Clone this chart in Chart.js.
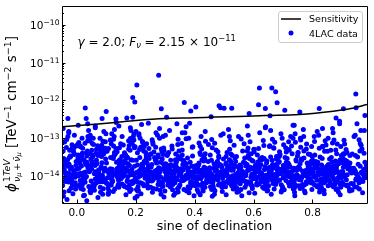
<!DOCTYPE html>
<html>
<head>
<meta charset="utf-8">
<script src="https://cdn.jsdelivr.net/npm/chart.js@4.4.0/dist/chart.umd.min.js"></script>
<style>
  html, body { margin: 0; padding: 0; background: #ffffff; }
  #wrap { width: 374px; height: 241px; }
</style>
</head>
<body>
<div id="wrap"><canvas id="grafico" width="374" height="241"></canvas></div>
<script>
// sensitivity curve (sine of declination, flux at 1 TeV)
const sensSinDec = [-0.05, 0.05, 0.12, 0.2, 0.3, 0.4, 0.47, 0.55, 0.64, 0.755, 0.87, 0.93, 0.985];
const sensFlux = [2.0e-13, 2.3e-13, 2.55e-13, 2.93e-13, 3.31e-13, 3.45e-13, 3.62e-13, 3.74e-13, 3.97e-13, 4.22e-13, 5.16e-13, 6.08e-13, 7.75e-13];

// 4LAC sources: sine of declination and flux in units of 1e-14 TeV-1 cm-2 s-1
const sinDec = [
  .278,.204,.19,.197,.62,.662,.675,.68,.947,.948,.029,.10,-.03,.032,.086,.133,.19,.287,.305,.365,
  .387,.404,.456,.483,.488,.50,.526,.585,.617,.64,.656,.706,.757,.823,.905,.88,.978,.17,
  -.047,-.012,-.031,-.004,-.041,-.023,-.036,-.008,-.018,-.045,-.027,-.002,-.039,-.015,-.033,-.006,-.021,-.043,-.011,-.029,
  -.025,-.048,-.003,-.034,-.019,-.009,-.042,-.028,-.016,-.038,-.005,-.022,-.046,-.013,-.032,-.001,-.026,-.044,-.01,-.035,
  -.04,-.017,-.03,-.006,-.044,-.024,-.013,-.036,-.002,-.028,-.048,-.011,-.02,-.033,-.009,-.042,-.015,-.026,-.038,-.004,
  .003,.041,.017,.029,.008,.046,.022,.035,.012,.039,.001,.026,.044,.015,.032,.006,.048,.019,.037,.024,
  .014,.038,.005,.027,.043,.011,.033,.02,.047,.009,.031,.016,.04,.002,.024,.036,.013,.045,.028,.007,
  .034,.004,.021,.049,.016,.042,.009,.03,.025,.045,.001,.018,.037,.011,.028,.047,.006,.023,.039,.013,
  .052,.087,.064,.095,.071,.058,.083,.099,.061,.076,.054,.091,.068,.08,.057,.094,.073,.062,.088,.079,
  .066,.051,.093,.078,.059,.085,.07,.097,.056,.082,.063,.09,.075,.053,.086,.067,.096,.06,.081,.072,
  .089,.055,.074,.098,.063,.081,.05,.092,.069,.077,.084,.058,.096,.065,.071,.053,.087,.06,.094,.079,
  .104,.138,.117,.146,.123,.109,.131,.142,.112,.127,.101,.148,.119,.135,.107,.144,.125,.113,.139,.121,
  .132,.106,.145,.118,.128,.102,.141,.115,.136,.124,.149,.11,.133,.12,.143,.108,.129,.116,.137,.103,
  .114,.147,.126,.105,.139,.119,.134,.101,.143,.111,.128,.122,.146,.107,.131,.117,.14,.124,.109,.136,
  .153,.187,.166,.195,.171,.158,.182,.199,.161,.176,.154,.191,.168,.18,.157,.194,.173,.162,.188,.179,
  .166,.151,.193,.178,.159,.185,.17,.197,.156,.182,.163,.19,.175,.153,.186,.167,.196,.16,.181,.172,
  .189,.155,.174,.198,.163,.181,.15,.192,.169,.177,.184,.158,.196,.165,.171,.153,.187,.16,.194,.179,
  .204,.238,.217,.246,.223,.209,.231,.242,.212,.227,.201,.248,.219,.235,.207,.244,.225,.213,.239,.221,
  .232,.206,.245,.218,.228,.202,.241,.215,.236,.224,.249,.21,.233,.22,.243,.208,.229,.216,.237,.203,
  .214,.247,.226,.205,.239,.219,.234,.201,.243,.211,.228,.222,.246,.207,.231,.217,.24,.224,.209,.236,
  .254,.288,.267,.296,.272,.259,.283,.298,.262,.277,.253,.291,.269,.281,.257,.294,.274,.263,.289,.279,
  .266,.251,.293,.278,.258,.285,.271,.297,.256,.282,.264,.29,.276,.252,.286,.268,.295,.261,.281,.273,
  .287,.255,.275,.299,.264,.283,.25,.292,.27,.278,.284,.258,.296,.265,.271,.254,.288,.26,.293,.277,
  .303,.338,.317,.346,.322,.308,.331,.342,.313,.327,.301,.348,.319,.335,.306,.344,.324,.312,.339,.321,
  .332,.305,.345,.318,.328,.302,.341,.315,.336,.325,.349,.31,.333,.32,.343,.307,.329,.316,.337,.304,
  .315,.347,.326,.305,.339,.319,.334,.301,.344,.311,.328,.323,.346,.307,.331,.318,.34,.324,.309,.336,
  .352,.387,.366,.395,.371,.358,.382,.399,.361,.376,.354,.391,.368,.38,.357,.394,.373,.362,.388,.379,
  .366,.351,.393,.378,.359,.385,.37,.397,.356,.382,.364,.39,.375,.353,.386,.367,.396,.36,.381,.372,
  .389,.355,.374,.398,.363,.381,.35,.392,.369,.377,.384,.358,.396,.365,.371,.353,.387,.36,.394,.379,
  .404,.438,.417,.446,.423,.409,.431,.442,.412,.427,.401,.448,.419,.435,.407,.444,.425,.413,.439,.421,
  .432,.406,.445,.418,.428,.402,.441,.415,.436,.424,.449,.41,.433,.42,.443,.408,.429,.416,.437,.403,
  .414,.447,.426,.405,.439,.419,.434,.401,.443,.411,.428,.422,.446,.407,.431,.417,.44,.424,.409,.436,
  .452,.487,.466,.495,.471,.458,.482,.499,.461,.476,.454,.491,.468,.48,.457,.494,.473,.462,.488,.479,
  .466,.451,.493,.478,.459,.485,.47,.497,.456,.482,.464,.49,.475,.453,.486,.467,.496,.46,.481,.472,
  .489,.455,.474,.498,.463,.481,.45,.492,.469,.477,.484,.458,.496,.465,.471,.453,.487,.46,.494,.479,
  .503,.538,.517,.546,.522,.508,.531,.542,.513,.527,.501,.548,.519,.535,.506,.544,.524,.512,.539,.521,
  .532,.505,.545,.518,.528,.502,.541,.515,.536,.525,.549,.51,.533,.52,.543,.507,.529,.516,.537,.504,
  .514,.547,.526,.505,.539,.519,.534,.501,.544,.511,.528,.523,.546,.507,.531,.518,.54,.524,.509,.536,
  .552,.587,.566,.595,.571,.558,.582,.599,.561,.576,.554,.591,.568,.58,.557,.594,.573,.562,.588,.579,
  .566,.551,.593,.578,.559,.585,.57,.597,.556,.582,.564,.59,.575,.553,.586,.567,.596,.56,.581,.572,
  .589,.555,.574,.598,.563,.581,.55,.592,.569,.577,.584,.558,.596,.565,.571,.553,.587,.56,.594,.579,
  .603,.638,.617,.646,.622,.608,.631,.642,.613,.627,.601,.648,.619,.635,.606,.644,.624,.612,.639,.621,
  .632,.605,.645,.618,.628,.602,.641,.615,.636,.625,.649,.61,.633,.62,.643,.607,.629,.616,.637,.604,
  .614,.647,.626,.605,.639,.619,.634,.601,.644,.611,.628,.623,.646,.607,.631,.618,.64,.624,.609,.636,
  .652,.687,.666,.695,.671,.658,.682,.699,.661,.676,.654,.691,.668,.68,.657,.694,.673,.662,.688,.679,
  .666,.651,.693,.678,.659,.685,.67,.697,.656,.682,.664,.69,.675,.653,.686,.667,.696,.66,.681,.672,
  .689,.655,.674,.698,.663,.681,.65,.692,.669,.677,.684,.658,.696,.665,.671,.653,.687,.66,.694,.679,
  .703,.738,.717,.746,.722,.708,.731,.742,.713,.727,.701,.748,.719,.735,.706,.744,.724,.712,.739,.721,
  .732,.705,.745,.718,.728,.702,.741,.715,.736,.725,.749,.71,.733,.72,.743,.707,.729,.716,.737,.704,
  .714,.747,.726,.705,.739,.719,.734,.701,.744,.711,.728,.723,.746,.707,.731,.718,.74,.724,.709,.736,
  .752,.787,.766,.795,.771,.758,.782,.799,.761,.776,.754,.791,.768,.78,.757,.794,.773,.762,.788,.779,
  .766,.751,.793,.778,.759,.785,.77,.797,.756,.782,.764,.79,.775,.753,.786,.767,.796,.76,.781,.772,
  .789,.755,.774,.798,.763,.781,.75,.792,.769,.777,.784,.758,.796,.765,.771,.753,.787,.76,.794,.779,
  .803,.838,.817,.846,.822,.808,.831,.842,.813,.827,.801,.848,.819,.835,.806,.844,.824,.812,.839,.821,
  .832,.805,.845,.818,.828,.802,.841,.815,.836,.825,.849,.81,.833,.82,.843,.807,.829,.816,.837,.804,
  .814,.847,.826,.805,.839,.819,.834,.801,.844,.811,.828,.823,.846,.807,.831,.818,.84,.824,.809,.836,
  .852,.887,.866,.895,.871,.858,.882,.899,.861,.876,.854,.891,.868,.88,.857,.894,.873,.862,.888,.879,
  .866,.851,.893,.878,.859,.885,.87,.897,.856,.882,.864,.89,.875,.853,.886,.867,.896,.86,.881,.872,
  .889,.855,.874,.898,.863,.881,.85,.892,.869,.877,.884,.858,.896,.865,.871,.853,.887,.86,.894,.879,
  .903,.958,.927,.976,.932,.908,.951,.972,.913,.947,.901,.981,.919,.965,.906,.974,.934,.912,.969,.941,
  .952,.905,.975,.918,.938,.902,.961,.915,.966,.925,.983,.91,.953,.92,.971,.907,.949,.916,.977,.904,
  .924,.979,.946,.905,.959,.929,.964,.901,.984,.911,.948,.933,.968,.907,.955,.918,.97,.944,.909,.962,
  .936,.963,.914,.98,.943,.921,.957,.903,.973,.931,.95,.917,.967,.94,.926,.978,.954,.909,.945,.96,
  -.046,.012,-.021,.044,.067,-.008,.091,.028,-.035,.056,.081,.003,-.027,.072,.038,.097,-.043,.019,.063,.085,
  .108,.163,.224,.137,.281,.195,.119,.252,.176,.213,.143,.296,.158,.237,.125,.268,.184,.206,.149,.274,
  .034,.097,.145,.211,.262,.018,.071,.129,.188,.243,.287,.051,.114,.172,.229,.005,.083,.154,.198,.276,
  .312,.447,.528,.371,.602,.489,.336,.415,.563,.641,.394,.507,.358,.473,.588,.323,.436,.549,.617,.383,
  .668,.792,.873,.711,.945,.834,.687,.759,.914,.962,.738,.851,.702,.816,.935,.664,.779,.892,.975,.726,
  .742,.905,.693,.823,.958,.771,.868,.655,.927,.806,.719,.884,.976,.751,.843,.678,.951,.797,.862,.734
];
const flux = [
  465,257,119,90,211,211,169,86,147,64,63,51,33,33,33,32,36,60,36,88,
  52,67,37,72,64,62,62,45,77,61,39,55,49,61,60,34,40,34,
  1.3,.62,2.7,.45,8.1,1.1,.84,3.9,1.7,.29,14,1.05,.71,5.6,2.2,.93,1.5,.38,4.4,1.2,
  3.1,.56,1.9,9.2,.48,1.4,2.5,.88,6.7,1.15,.66,3.4,18,.99,1.8,.52,.41,2.9,1.25,.74,
  2.1,.8,11,.58,1.35,4.8,.34,1.02,2.4,.69,1.7,5.2,.95,.24,3.7,1.45,.6,2.05,.87,6.1,
  1.1,.53,3.3,.9,1.6,12,.44,2.3,.76,1.9,6.3,.31,1.4,.67,4.1,1.0,2.8,.59,8.6,1.22,
  .47,1.7,3.6,.71,1.3,2.6,.97,5.4,.36,1.08,2.0,.63,16,1.55,.85,4.6,1.18,.5,2.35,7.7,
  .22,3.0,1.03,.74,1.85,9.6,.57,1.27,2.7,.4,1.5,.8,24,2.15,.68,3.8,1.12,.3,1.65,5.9,
  2.4,.7,1.3,4.3,.95,.43,1.75,13,.61,1.1,3.2,.86,2.1,.5,6.8,1.38,.78,1.9,.33,10,
  .65,1.5,5.1,.99,.55,2.25,1.07,.81,3.5,1.6,21,.46,1.3,7.2,.9,2.6,.72,1.15,4.7,.27,
  8.3,.6,1.45,2.8,.83,.37,1.95,15,1.25,.7,3.3,.52,1.6,4.0,.94,2.2,1.05,.42,1.35,5.7,
  .9,1.6,.58,2.7,1.2,.41,3.9,.76,1.05,11,.64,1.8,.88,2.3,.35,1.3,6.2,.97,.53,1.5,
  1.15,.48,2.0,.82,17,1.4,.6,3.1,1.0,.39,1.7,.93,5.3,.69,2.5,1.22,.45,8.8,1.08,4.5,
  1.55,.85,3.4,.62,1.25,.98,26,2.2,.5,1.35,4.2,.74,1.9,.33,1.12,7.1,.87,2.9,.57,1.45,
  1.9,.72,3.6,1.15,.49,2.4,9.8,.86,1.45,5.2,.61,1.08,2.9,.39,1.7,13,.95,4.1,1.28,.57,
  2.2,1.02,.68,6.4,1.55,.44,3.2,.81,1.2,19,.53,2.6,1.35,.91,7.6,.32,1.8,1.1,4.8,.76,
  .63,1.4,2.1,.26,3.8,1.06,.84,11,1.62,.47,2.7,.98,5.6,1.25,.71,3.3,1.5,.55,8.9,1.9,
  1.25,3.4,.66,1.75,8.2,.93,2.3,.48,1.12,4.6,15,.79,1.6,2.8,.4,1.05,6.1,1.4,.58,2.05,
  .87,1.95,5.3,.34,1.3,2.6,.72,10,1.48,.62,3.7,1.15,.97,23,1.85,.52,2.4,1.02,7.1,.44,
  3.1,.76,1.55,.29,2.2,1.1,4.2,.89,1.38,12,.55,1.7,2.9,.68,1.22,5.8,.95,1.9,.42,3.5,
  1.1,.56,2.6,.83,1.45,6.9,.42,1.8,.97,3.2,1.25,.64,14,1.6,.37,2.1,.88,1.05,4.4,.71,
  1.35,.5,3.7,1.02,.77,2.3,.45,1.55,9.1,.92,1.2,2.8,.6,1.7,.33,1.12,5.5,.86,18,1.4,
  .69,2.0,1.08,.4,3.1,1.3,.81,.53,2.5,1.65,.95,7.8,.28,1.18,2.2,.74,1.5,.47,11,1.0,
  .98,2.4,.55,1.3,.72,3.8,1.15,.46,1.9,.85,12,1.05,.62,2.7,1.5,.38,5.2,.9,1.7,1.25,
  .7,1.6,3.3,.51,1.08,2.1,.8,16,1.4,.43,2.9,1.18,.66,1.95,6.8,.94,.31,1.35,2.3,.77,
  1.52,4.6,.6,1.1,.88,2.6,.35,1.28,9.4,.73,1.85,1.0,.5,3.5,1.42,.82,24,1.15,.58,2.05,
  1.4,.63,2.2,.89,1.05,4.9,.47,1.7,.76,3.0,1.2,.56,1.9,10,.92,1.3,.4,2.6,.7,1.6,
  .83,1.15,3.4,.52,1.5,2.3,.99,.66,7.2,1.25,.44,1.8,.87,2.8,1.1,14,.6,1.45,.36,2.1,
  1.02,.74,1.65,.3,2.45,1.18,.58,5.8,.95,1.35,.49,3.6,1.08,.8,20,1.55,.68,2.0,1.28,.9,
  .91,1.5,.57,2.4,1.12,.43,3.2,.78,1.3,.64,1.85,.99,6.1,.5,1.6,1.05,2.7,.37,1.2,.85,
  1.7,.69,1.08,4.1,.46,1.38,.8,2.2,15,.96,1.55,.6,1.15,3.7,.74,1.9,.4,1.25,8.3,.55,
  2.0,.88,1.45,.62,1.0,.32,2.9,1.3,.72,1.78,.52,11,1.1,.83,2.5,1.4,.66,5.2,.97,1.62,
  1.3,.6,2.1,.86,1.55,.44,3.4,1.02,.73,1.8,.52,1.15,7.4,.95,2.6,.39,1.4,.68,1.22,4.4,
  .82,1.65,.5,2.3,1.1,.62,1.35,13,.9,3.1,.47,1.9,1.05,.76,2.0,.33,1.28,5.6,.58,1.5,
  1.18,.7,1.45,2.8,.54,1.0,.85,1.7,.41,2.4,1.25,9.2,.64,1.6,.92,3.6,1.08,.29,1.38,.78,
  1.05,.58,1.8,.8,2.5,1.3,.45,3.3,.97,1.55,.66,1.2,5.1,.88,2.05,.37,1.42,.74,1.12,8.6,
  1.65,.52,1.1,2.7,.71,1.35,.92,17,1.9,.6,1.25,4.2,.83,1.5,.48,2.2,1.02,.65,3.0,1.38,
  .77,1.75,.55,1.15,2.4,.96,6.5,1.28,.42,1.62,.87,3.8,1.0,.32,1.45,11,.69,2.1,1.18,.5,
  1.5,.7,2.3,1.08,.5,1.75,3.5,.85,1.25,.6,1.95,.93,7.1,1.4,.44,2.6,1.02,.76,1.6,4.6,
  .98,1.3,.56,2.0,1.15,.36,3.0,1.55,.8,12,1.2,.67,1.85,.9,2.9,1.05,.47,1.35,5.5,.72,
  1.7,.62,1.1,2.5,.83,1.42,.39,3.9,1.0,.7,1.6,9.5,.55,1.28,2.2,.95,1.48,.3,1.12,21,
  1.2,.66,1.9,.9,2.8,1.45,.5,1.05,3.6,.78,1.6,.42,1.3,6.4,.95,2.2,1.12,.58,1.75,14,
  .87,1.55,2.5,.61,1.18,4.3,.74,1.38,.47,2.0,1.02,.83,8.7,1.65,.55,1.25,3.1,.92,1.48,.35,
  2.35,.72,1.1,1.8,.52,1.35,.97,5.0,1.6,.64,2.7,1.08,.4,1.95,.8,1.28,19,.68,1.5,2.9,
  1.08,2.4,.63,1.5,.85,3.2,1.25,.48,1.75,.95,6.0,1.15,.7,2.1,1.4,.38,1.9,.8,4.4,1.02,
  1.6,.55,1.2,2.8,.9,1.35,.45,10,1.05,.74,1.85,3.7,.6,1.28,2.3,.97,1.5,.33,1.12,7.8,
  .78,1.7,1.0,.52,2.6,1.45,.88,1.18,5.4,.67,1.55,16,.42,2.0,1.1,.93,3.3,1.3,.59,1.8,
  1.35,.72,2.2,1.0,.54,1.65,3.9,.86,1.2,.6,1.9,1.05,8.1,.45,1.45,2.7,.95,1.15,.37,4.8,
  .8,1.5,2.5,.66,1.28,.92,13,1.7,.5,1.1,3.4,.76,1.38,2.0,.57,1.22,6.2,.98,1.6,.43,
  2.9,1.08,.7,1.8,.49,1.3,22,.9,1.55,2.3,.64,1.0,1.42,3.1,.82,1.18,.3,1.75,5.6,1.02,
  .96,1.7,.6,2.4,1.15,.47,1.4,3.3,.78,1.25,.55,2.0,1.02,7.0,.88,1.55,.4,2.8,1.2,.7,
  1.35,4.1,.85,1.1,.52,1.85,11,.65,1.6,2.2,.93,1.3,.36,1.75,3.8,1.05,.74,5.8,1.45,.58,
  1.9,.8,1.25,.44,2.6,1.0,1.6,.68,17,1.4,.91,2.1,1.12,.5,3.0,1.5,.72,9.0,1.18,.62,
  1.2,.65,2.0,.9,1.5,3.6,.48,1.08,1.75,.74,2.6,1.3,.56,5.9,.98,1.45,.38,1.9,1.1,12,
  .84,1.6,1.02,2.3,.6,1.35,4.5,.77,1.2,.45,1.8,.95,2.9,1.55,.7,8.2,1.15,.52,1.4,2.1,
  1.65,.88,3.2,1.0,.42,1.28,18,.66,1.5,2.4,.82,1.12,6.6,.58,1.95,1.05,.34,1.38,.92,1.7,
  1.45,.7,2.3,1.05,.52,1.7,3.9,.9,1.25,.6,2.0,1.12,7.5,.44,1.6,2.7,.82,1.35,.38,4.9,
  1.0,1.55,.62,2.5,1.15,.46,14,1.3,.76,1.9,3.1,.95,1.4,.55,2.2,1.08,6.0,.68,1.75,.87,
  2.1,.8,1.2,3.5,.58,1.5,.98,24,1.65,.72,1.28,2.8,.5,1.02,1.85,10,.9,1.38,.32,2.4,
  1.3,.66,2.2,.95,1.6,3.8,.5,1.12,1.85,.78,2.7,1.4,.58,6.5,1.02,1.5,.42,2.0,1.18,11,
  .86,1.7,1.05,2.4,.62,1.3,4.6,.8,1.25,.47,1.9,.97,3.2,1.55,.72,8.8,1.15,.55,1.45,2.2,
  1.75,.9,3.5,1.1,.45,1.35,16,.68,1.6,2.6,.85,1.2,5.2,.6,2.05,1.08,.36,1.42,.95,1.8,
  1.25,.74,2.5,1.05,.52,1.9,.88,3.0,1.4,.63,1.15,4.2,.8,1.6,.4,2.3,1.0,7.0,1.32,.7,
  4.6,6.2,3.3,8.4,5.1,12,3.8,7.3,5.7,9.9,4.2,6.8,15,3.5,11,5.4,7.9,4.0,19,6.5,
  5.3,3.6,7.7,4.4,10,6.0,13,3.9,8.6,5.0,21,4.7,6.6,3.2,9.3,5.8,16,4.1,7.1,12,
  3.4,8.0,5.6,13,4.3,10,6.3,3.7,7.4,25,5.2,4.8,9.0,3.1,6.0,22,4.5,11,5.9,3.6,
  4.2,6.8,3.5,9.7,5.1,12,3.8,7.5,4.6,20,5.9,3.3,14,4.9,8.1,6.2,3.9,11,5.3,25,
  5.6,3.7,8.9,4.3,12,6.1,3.4,10,5.0,7.2,22,4.5,6.7,15,3.8,9.4,5.2,28,4.0,11,
  7.8,3.9,13,5.4,9.1,4.6,18,6.3,3.5,11,5.0,7.0,16,4.2,8.5,3.3,24,6.0,4.8,10
];
const fluxUnit = 1e-14;

const xTicks = [0.0, 0.2, 0.4, 0.6, 0.8];
const yTickExps = [-14, -13, -12, -11, -10];
const xRange = [-0.05, 0.985];
const yRange = [1.93e-15, 2.95e-10];

const fam = '"DejaVu Sans"';
Chart.defaults.font.family = "DejaVu Sans";
Chart.defaults.color = "#000000";

var n = Math.min(sinDec.length, flux.length);
var puntos = [];
for (var i = 0; i < n; i++) puntos.push({ x: sinDec[i], y: flux[i] * fluxUnit });
var curva = sensSinDec.map(function (s, i) { return { x: s, y: sensFlux[i] }; });

// draws text pieces one after the other (mathtext-like)
function runWidth(ctx, runs) {
  var w = 0;
  runs.forEach(function (r) {
    ctx.font = (r.it ? "italic " : "") + r.size + "px " + fam;
    w += ctx.measureText(r.t).width + (r.gap || 0);
  });
  return w;
}
function drawRuns(ctx, runs, x, y) {
  runs.forEach(function (r) {
    ctx.font = (r.it ? "italic " : "") + r.size + "px " + fam;
    ctx.fillText(r.t, x, y - (r.dy || 0));
    x += ctx.measureText(r.t).width + (r.gap || 0);
  });
  return x;
}

const extras = {
  id: "extras",
  afterDraw: function (chart) {
    var ctx = chart.ctx, ca = chart.chartArea;
    var xs = chart.scales.x, ys = chart.scales.y;
    ctx.save();
    ctx.fillStyle = "#000";
    ctx.strokeStyle = "#000";
    ctx.lineWidth = 1;
    ctx.textBaseline = "alphabetic";

    // frame
    ctx.beginPath();
    ctx.rect(ca.left + 0.5, ca.top - 0.5, ca.right - ca.left, ca.bottom - ca.top + 1);
    ctx.stroke();

    // ticks (inside)
    ctx.beginPath();
    xTicks.forEach(function (v) {
      var px = Math.round(xs.getPixelForValue(v)) + 0.5;
      ctx.moveTo(px, ca.bottom); ctx.lineTo(px, ca.bottom - 3.5);
    });
    for (var e = -15; e <= -10; e++) {
      for (var m = 1; m <= 9; m++) {
        var val = m * Math.pow(10, e);
        if (val < yRange[0] || val > yRange[1]) continue;
        var py = Math.round(ys.getPixelForValue(val)) + 0.5;
        ctx.moveTo(ca.left, py); ctx.lineTo(ca.left + (m === 1 ? 3.5 : 2), py);
      }
    }
    ctx.stroke();

    // y tick labels 10^n
    yTickExps.forEach(function (ex) {
      var py = ys.getPixelForValue(Math.pow(10, ex));
      var sup = "\u2212" + Math.abs(ex);
      ctx.font = "7.6px " + fam;
      var sw = ctx.measureText(sup).width;
      ctx.font = "10.5px " + fam;
      var bw = ctx.measureText("10").width;
      var right = ca.left - 2.5;
      ctx.fillText("10", right - sw - bw, py + 4);
      ctx.font = "7.6px " + fam;
      ctx.fillText(sup, right - sw, py + 0.4);
    });

    // y axis title (rotated)
    var main = 13.5, small = 9.45, tiny = 6.6;
    var supRuns = [{ t: "1", size: small }, { t: "TeV", size: small, it: true }];
    var subRuns = [{ t: "\u03bd", size: small, it: true }, { t: "\u03bc", size: tiny, it: true, dy: -1.5, gap: 1.5 },
                   { t: "+", size: small, gap: 1.5 }, { t: "\u03bd\u0304", size: small, it: true }, { t: "\u03bc", size: tiny, it: true, dy: -1.5 }];
    var unitRuns = [{ t: " [TeV", size: main }, { t: "\u22121", size: small, dy: 5.5 },
                    { t: " cm", size: main }, { t: "\u22122", size: small, dy: 5.5 },
                    { t: " s", size: main }, { t: "\u22121", size: small, dy: 5.5 }, { t: "]", size: main }];
    ctx.font = "italic " + main + "px " + fam;
    var phiW = ctx.measureText("\u03d5").width;
    var stackW = Math.max(runWidth(ctx, supRuns), runWidth(ctx, subRuns));
    var total = phiW + 1 + stackW + runWidth(ctx, unitRuns);
    ctx.save();
    ctx.translate(16, 114 + total / 2);
    ctx.rotate(-Math.PI / 2);
    ctx.font = "italic " + main + "px " + fam;
    ctx.fillText("\u03d5", 0, 0);
    var x0 = phiW + 1;
    drawRuns(ctx, supRuns.map(function (r) { return Object.assign({}, r, { dy: 6 }); }), x0, 0);
    drawRuns(ctx, subRuns, x0, 3.5);
    drawRuns(ctx, unitRuns, x0 + stackW, 0);
    ctx.restore();

    // annotation
    var fs = 12, fsub = 8.4;
    drawRuns(ctx, [
      { t: "\u03b3", size: fs, it: true }, { t: " = 2.0; ", size: fs },
      { t: "F", size: fs, it: true }, { t: "\u03bd", size: fsub, it: true, dy: -2.5 },
      { t: " = 2.15 \u00d7 10", size: fs }, { t: "\u221211", size: fsub, dy: 5 }
    ], 77.5, 45.7);

    // legend
    var lx = 278.5, ly = 11.5, lw = 84, lh = 31;
    ctx.beginPath();
    ctx.roundRect(lx, ly, lw, lh, 2.5);
    ctx.fillStyle = "rgba(255,255,255,0.8)";
    ctx.fill();
    ctx.strokeStyle = "#cccccc";
    ctx.stroke();
    var ds = chart.data.datasets;
    ctx.strokeStyle = ds[0].borderColor;
    ctx.lineWidth = ds[0].borderWidth;
    ctx.beginPath();
    ctx.moveTo(281, 19); ctx.lineTo(301, 19);
    ctx.stroke();
    ctx.fillStyle = ds[1].backgroundColor;
    ctx.beginPath();
    ctx.arc(291, 33, ds[1].pointRadius, 0, Math.PI * 2);
    ctx.fill();
    ctx.fillStyle = "#000";
    ctx.font = "9.5px " + fam;
    ctx.fillText(ds[0].label, 309, 22);
    ctx.fillText(ds[1].label, 309, 36.5);
    ctx.restore();
  }
};

var ctx = document.getElementById("grafico").getContext("2d");
var mychart = new Chart(ctx, {
  type: "scatter",
  data: {
    datasets: [{
      label: "Sensitivity",
      data: curva,
      showLine: true,
      borderColor: "#000000",
      borderWidth: 1.5,
      pointRadius: 0,
      cubicInterpolationMode: "monotone",
      order: 0
    }, {
      label: "4LAC data",
      data: puntos,
      backgroundColor: "#0000ff",
      borderWidth: 0,
      pointRadius: 2.5,
      order: 1
    }]
  },
  options: {
    responsive: false,
    animation: false,
    devicePixelRatio: 1,
    layout: { padding: { left: 0, right: 7, top: 7, bottom: 0 } },
    plugins: { legend: { display: false }, tooltip: { enabled: false } },
    scales: {
      x: {
        type: "linear",
        min: xRange[0],
        max: xRange[1],
        afterBuildTicks: function (s) { s.ticks = xTicks.map(function (v) { return { value: v }; }); },
        afterFit: function (s) { s.height = 38; },
        grid: { display: false, drawTicks: false },
        border: { display: false },
        ticks: {
          autoSkip: false, maxRotation: 0, padding: 3.5,
          font: { size: 10.5 }, color: "#000",
          callback: function (v) { return Number(v).toFixed(1); }
        },
        title: {
          display: true, text: "sine of declination", color: "#000",
          font: { size: 12.6 }, padding: { top: 0, bottom: 7 }
        }
      },
      y: {
        type: "logarithmic",
        min: yRange[0],
        max: yRange[1],
        afterFit: function (s) { s.width = 62; },
        ticks: { display: false },
        grid: { display: false, drawTicks: false },
        border: { display: false }
      }
    }
  },
  plugins: [extras]
});
</script>
</body>
</html>
